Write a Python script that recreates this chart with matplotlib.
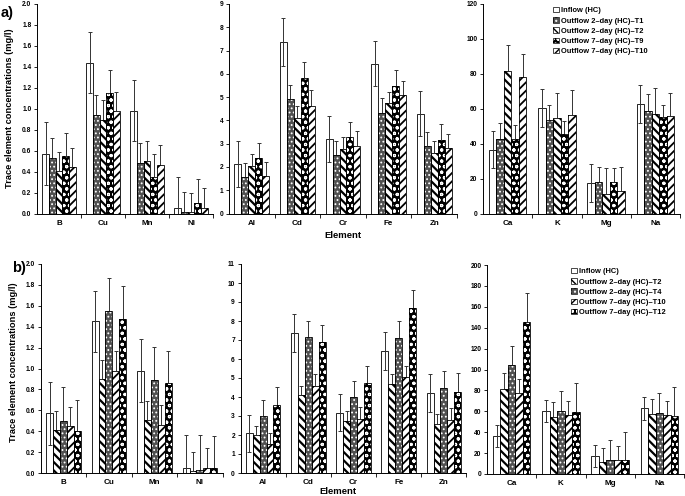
import numpy as np
import matplotlib
matplotlib.use("Agg")
import matplotlib.pyplot as plt
from matplotlib.patches import Patch
from matplotlib.legend_handler import HandlerTuple

plt.rcParams['font.family'] = ['Liberation Sans', 'DejaVu Sans']
plt.rcParams['font.weight'] = 'bold'

# ---------------- data ----------------
trace_el = ["B", "Cu", "Mn", "Ni"]
metal_el = ["Al", "Cd", "Cr", "Fe", "Zn"]
major_el = ["Ca", "K", "Mg", "Na"]

labels_a = ["Inflow (HC)", "Outflow 2\u2013day (HC)\u2013T1", "Outflow 2\u2013day (HC)\u2013T2",
            "Outflow 7\u2013day (HC)\u2013T9", "Outflow 7\u2013day (HC)\u2013T10"]
labels_b = ["Inflow (HC)", "Outflow 2\u2013day (HC)\u2013T2", "Outflow 2\u2013day (HC)\u2013T4",
            "Outflow 7\u2013day (HC)\u2013T10", "Outflow 7\u2013day (HC)\u2013T12"]

# panel a) values, one row per series (Inflow, T1, T2, T9, T10)
a_trace = [[0.57, 1.44, 0.98, 0.05],
           [0.53, 0.94, 0.48, 0.01],
           [0.41, 0.89, 0.50, 0.01],
           [0.55, 1.15, 0.35, 0.10],
           [0.44, 0.98, 0.46, 0.05]]
a_trace_err = [[0.30, 0.29, 0.29, 0.30],
               [0.19, 0.19, 0.19, 0.20],
               [0.18, 0.19, 0.19, 0.19],
               [0.22, 0.22, 0.22, 0.23],
               [0.19, 0.18, 0.19, 0.19]]
a_metal = [[2.13, 7.37, 3.21, 6.44, 4.29],
           [1.57, 4.93, 2.51, 4.33, 2.90],
           [2.04, 4.11, 2.76, 4.73, 2.61],
           [2.37, 5.84, 3.27, 5.49, 3.14],
           [1.60, 4.63, 2.90, 5.07, 2.81]]
a_metal_err = [[0.98, 1.02, 0.99, 0.97, 0.98],
               [0.62, 0.60, 0.60, 0.63, 0.60],
               [0.50, 0.52, 0.53, 0.51, 0.50],
               [0.67, 0.67, 0.67, 0.68, 0.69],
               [0.63, 0.66, 0.63, 0.63, 0.62]]
a_major = [[36.6, 60.4, 17.5, 62.7],
           [42.9, 53.3, 18.1, 58.7],
           [81.9, 54.9, 11.0, 56.8],
           [42.9, 45.7, 18.3, 55.0],
           [77.9, 56.6, 12.8, 55.8]]
a_major_err = [[10.6, 11.0, 10.7, 11.0],
               [9.1, 9.0, 8.6, 9.7],
               [14.5, 14.0, 15.0, 15.0],
               [8.0, 7.4, 7.7, 7.1],
               [13.5, 13.9, 13.9, 13.5]]

# panel b) values (Inflow, T2, T4, T10, T12)
b_trace = [[0.57, 1.45, 0.98, 0.05],
           [0.41, 0.90, 0.51, 0.02],
           [0.50, 1.55, 0.89, 0.03],
           [0.45, 0.98, 0.46, 0.05],
           [0.40, 1.47, 0.86, 0.045]]
b_trace_err = [[0.30, 0.29, 0.30, 0.31],
               [0.18, 0.18, 0.18, 0.18],
               [0.32, 0.32, 0.32, 0.33],
               [0.18, 0.19, 0.19, 0.19],
               [0.30, 0.32, 0.31, 0.31]]
b_metal = [[2.08, 7.36, 3.17, 6.41, 4.21],
           [1.99, 4.10, 2.73, 4.67, 2.57],
           [2.98, 7.15, 4.00, 7.10, 4.49],
           [1.53, 4.60, 2.83, 5.04, 2.78],
           [3.57, 6.87, 4.74, 8.68, 4.28]]
b_metal_err = [[0.98, 1.00, 0.97, 1.00, 0.98],
               [0.51, 0.48, 0.51, 0.52, 0.51],
               [0.84, 0.83, 0.82, 0.88, 0.88],
               [0.60, 0.63, 0.64, 0.61, 0.62],
               [0.94, 0.91, 0.91, 0.95, 0.97]]
b_major = [[36.3, 60.2, 17.2, 62.7],
           [81.5, 54.1, 11.5, 57.3],
           [104.5, 60.5, 13.1, 58.6],
           [77.4, 56.7, 13.1, 56.0],
           [145.9, 59.6, 13.1, 55.7]]
b_major_err = [[10.8, 10.8, 10.5, 11.2],
               [15.0, 14.7, 13.3, 14.4],
               [18.1, 18.8, 19.1, 18.8],
               [13.7, 13.0, 13.3, 13.4],
               [27.7, 27.7, 27.3, 27.7]]

# ---------------- styles ----------------
# (facecolor, hatch colour, hatch, hatch linewidth)
WHITE = ("white", "black", None, 0.8)
DOTS = ("#505050", "white", "....", 0.8)
BACK = ("white", "black", "\\\\\\\\", 1.6)
CIRC = ("black", "white", "ooo", 0.8)
FWD = ("white", "black", "////", 1.3)

styles_a = [WHITE, DOTS, BACK, CIRC, FWD]
styles_b = [WHITE, BACK, DOTS, FWD, CIRC]

W, H = 685, 496
fig = plt.figure(figsize=(W / 100, H / 100), dpi=100)


def px_axes(x0, x1, ytop, ybot):
    return fig.add_axes([x0 / W, 1 - ybot / H, (x1 - x0) / W, (ybot - ytop) / H])


def draw_panel(ax, elements, values, errs, styles, ymax, ystep, fmt):
    n = len(elements)
    bw = 0.153
    centers = np.arange(n) + 0.5
    for k, (vals, err, st) in enumerate(zip(values, errs, styles)):
        x = centers + (k - 2) * bw
        face, hcol, hatch, hlw = st
        with plt.rc_context({'hatch.linewidth': hlw}):
            ax.bar(x, vals, bw, color=face, edgecolor=hcol, hatch=hatch,
                   linewidth=0, zorder=2)
        ax.bar(x, vals, bw, fill=False, edgecolor="black", linewidth=0.6, zorder=2.5)
        ax.errorbar(x, vals, yerr=err, fmt="none", ecolor="#333333",
                    elinewidth=0.7, capsize=1.6, capthick=0.7,
                    zorder=3 if k == 0 else 1)
    ax.set_xlim(0, n)
    ax.set_ylim(0, ymax)
    ax.set_yticks(np.arange(0, ymax + ystep / 2, ystep))
    ax.yaxis.set_major_formatter(plt.FormatStrFormatter(fmt))
    ax.set_xticks(np.arange(1, n + 1))
    ax.set_xticklabels([])
    ax.set_xticks(centers, minor=True)
    ax.set_xticklabels(elements, minor=True, fontsize=5.8, fontweight="bold")
    ax.tick_params(axis="x", which="minor", length=0, pad=4.5)
    ax.tick_params(axis="x", which="major", length=3, width=0.6, direction="out")
    ax.tick_params(axis="y", length=2.5, width=0.6, labelsize=4.8, pad=1.5)
    for s in ("top", "right"):
        ax.spines[s].set_visible(False)
    for s in ("left", "bottom"):
        ax.spines[s].set_linewidth(0.7)


def add_legend(ax, labels, styles, x, y):
    handles = []
    for st in styles:
        face, hcol, hatch, hlw = st
        with plt.rc_context({'hatch.linewidth': min(hlw, 1.0)}):
            p1 = Patch(facecolor=face, edgecolor=hcol, hatch=hatch, linewidth=0)
        p2 = Patch(fill=False, edgecolor="black", linewidth=0.5)
        handles.append((p1, p2))
    ax.legend(handles, labels, handler_map={tuple: HandlerTuple(ndivide=1, pad=0)},
              loc="upper left", bbox_to_anchor=(x / W, 1 - y / H),
              bbox_transform=fig.transFigure, frameon=False,
              handlelength=0.75, handleheight=0.75, handletextpad=0.3,
              labelspacing=0.38, borderpad=0, borderaxespad=0,
              prop={"weight": "bold", "size": 5.4})


# panel a)
ax1 = px_axes(37, 213, 4, 213.5)
ax2 = px_axes(229, 457, 4, 213.5)
ax3 = px_axes(483, 680, 4, 213.5)
draw_panel(ax1, trace_el, a_trace, a_trace_err, styles_a, 2.0, 0.2, "%.1f")
draw_panel(ax2, metal_el, a_metal, a_metal_err, styles_a, 9, 1, "%d")
draw_panel(ax3, major_el, a_major, a_major_err, styles_a, 120, 20, "%d")
add_legend(ax3, labels_a, styles_a, 553, 7)

# panel b)
bx1 = px_axes(40.7, 222.7, 264, 473)
bx2 = px_axes(240.5, 466.5, 264, 473)
bx3 = px_axes(487, 684, 265, 474)
draw_panel(bx1, trace_el, b_trace, b_trace_err, styles_b, 2.0, 0.2, "%.1f")
draw_panel(bx2, metal_el, b_metal, b_metal_err, styles_b, 11, 1, "%d")
draw_panel(bx3, major_el, b_major, b_major_err, styles_b, 200, 20, "%d")
add_legend(bx3, labels_b, styles_b, 571, 268)

ylab = "Trace element concentrations (mg/l)"
fig.text(10 / W, 1 - 108 / H, ylab, rotation=90, ha="center", va="center",
         fontsize=6.7, fontweight="bold")
fig.text(14 / W, 1 - 362 / H, ylab, rotation=90, ha="center", va="center",
         fontsize=6.7, fontweight="bold")
fig.text(343 / W, 1 - 236 / H, "Element", ha="center", va="center",
         fontsize=6.8, fontweight="bold")
fig.text(338 / W, 1 - 491 / H, "Element", ha="center", va="center",
         fontsize=6.8, fontweight="bold")
fig.text(1 / W, 1 - 13 / H, "a)", ha="left", va="center", fontsize=10.5, fontweight="bold")
fig.text(12 / W, 1 - 268 / H, "b)", ha="left", va="center", fontsize=10.5, fontweight="bold")

fig.savefig("out.png", dpi=100)
